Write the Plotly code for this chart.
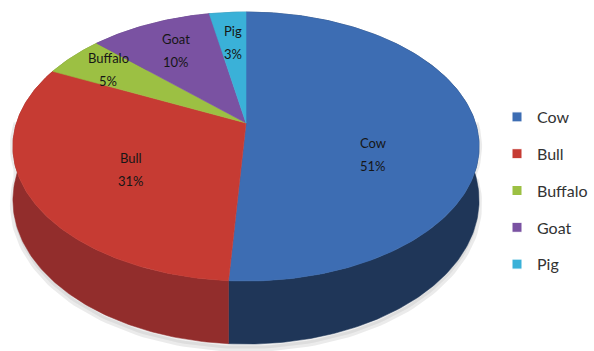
import numpy as np
import plotly.graph_objects as go

# Livestock share data
categories = ["Cow", "Bull", "Buffalo", "Goat", "Pig"]
shares = [51, 31, 5, 10, 3]

# Styling
top_colors = ["#3D6DB3", "#C63B33", "#9CC043", "#7A52A2", "#3AB1D8"]
side_colors = ["#1F3658", "#922D2C", "#6C8A2C", "#553874", "#2A7E99"]
label_r = [0.58, 0.58, 0.78, 0.70, 0.70]
label_turn = [22, -5, 0, 0, 0]

W, H = 594, 351
CX, CY = 246, 123          # projected centre of the disc
AX, BY = 229.5, 130.4      # horizontal / vertical radii before perspective
K = 0.175                  # perspective strength
DEPTH = 52                 # disc thickness


def project(r, theta_deg, drop=0.0):
    """Project a point of the disc (radius r, angle clockwise from the far
    side) to screen coordinates, with simple perspective."""
    t = np.radians(theta_deg)
    s, c = r * np.sin(t), r * np.cos(t)
    d = 1 + K * c
    return CX + AX * s / d, CY - BY * c / d + drop / d


total = float(sum(shares))
bounds = np.concatenate([[0.0], np.cumsum(shares) / total * 360.0])

fig = go.Figure()

# soft shadow under the disc
th = np.linspace(90, 270, 120)
sx, sy = project(1.0, th, DEPTH + 4)
tx, ty = project(1.0, th[::-1], 0)
fig.add_trace(go.Scatter(x=np.r_[sx, tx], y=np.r_[sy, ty], fill="toself",
                         mode="lines", line=dict(width=6, color="rgba(0,0,0,0.08)"),
                         fillcolor="rgba(0,0,0,0.06)", showlegend=False, hoverinfo="skip"))

# outer walls (far slices first)
order = sorted(range(len(shares)),
               key=lambda i: -np.cos(np.radians((bounds[i] + bounds[i + 1]) / 2)))
for i in order:
    th = np.linspace(bounds[i], bounds[i + 1], max(8, int(shares[i] * 4)))
    x1, y1 = project(1.0, th)
    x2, y2 = project(1.0, th[::-1], DEPTH)
    fig.add_trace(go.Scatter(x=np.r_[x1, x2, x1[0]], y=np.r_[y1, y2, y1[0]],
                             fill="toself", mode="lines",
                             line=dict(width=0.5, color=side_colors[i]),
                             fillcolor=side_colors[i], showlegend=False,
                             hoverinfo="skip"))

# top faces
for i in range(len(shares)):
    th = np.linspace(bounds[i], bounds[i + 1], max(8, int(shares[i] * 4)))
    ax_, ay_ = project(1.0, th)
    fig.add_trace(go.Scatter(x=np.r_[CX, ax_, CX], y=np.r_[CY, ay_, CY],
                             fill="toself", mode="lines",
                             line=dict(width=0.6, color=top_colors[i]),
                             fillcolor=top_colors[i], showlegend=False,
                             hoverinfo="skip"))

# data labels
for i, cat in enumerate(categories):
    mid = (bounds[i] + bounds[i + 1]) / 2 + label_turn[i]
    lx, ly = project(label_r[i], mid)
    pct = round(shares[i] / total * 100)
    for txt, dy in ((cat, -11.5), (f"{pct}%", 11.5)):
        fig.add_annotation(x=lx, y=ly, text=txt, showarrow=False, yshift=-dy,
                           font=dict(family="Lato", size=13, color="#161616"))

# legend entries
for i, cat in enumerate(categories):
    fig.add_trace(go.Scatter(x=[None], y=[None], mode="markers", name=cat,
                             legendgroup=cat,
                             marker=dict(symbol="square", size=10,
                                         color=top_colors[i],
                                         line=dict(width=1, color="white"))))

fig.update_layout(
    width=W, height=H,
    margin=dict(l=0, r=0, t=0, b=0),
    paper_bgcolor="white", plot_bgcolor="white",
    xaxis=dict(range=[0, W], visible=False, fixedrange=True),
    yaxis=dict(range=[H, 0], visible=False, fixedrange=True),
    showlegend=True,
    legend=dict(x=497 / W, y=1 - 100 / H, xanchor="left", yanchor="top",
                font=dict(family="Lato", size=16, color="#333333"),
                tracegroupgap=13, bgcolor="rgba(0,0,0,0)"),
)

fig.write_html("out.html")
